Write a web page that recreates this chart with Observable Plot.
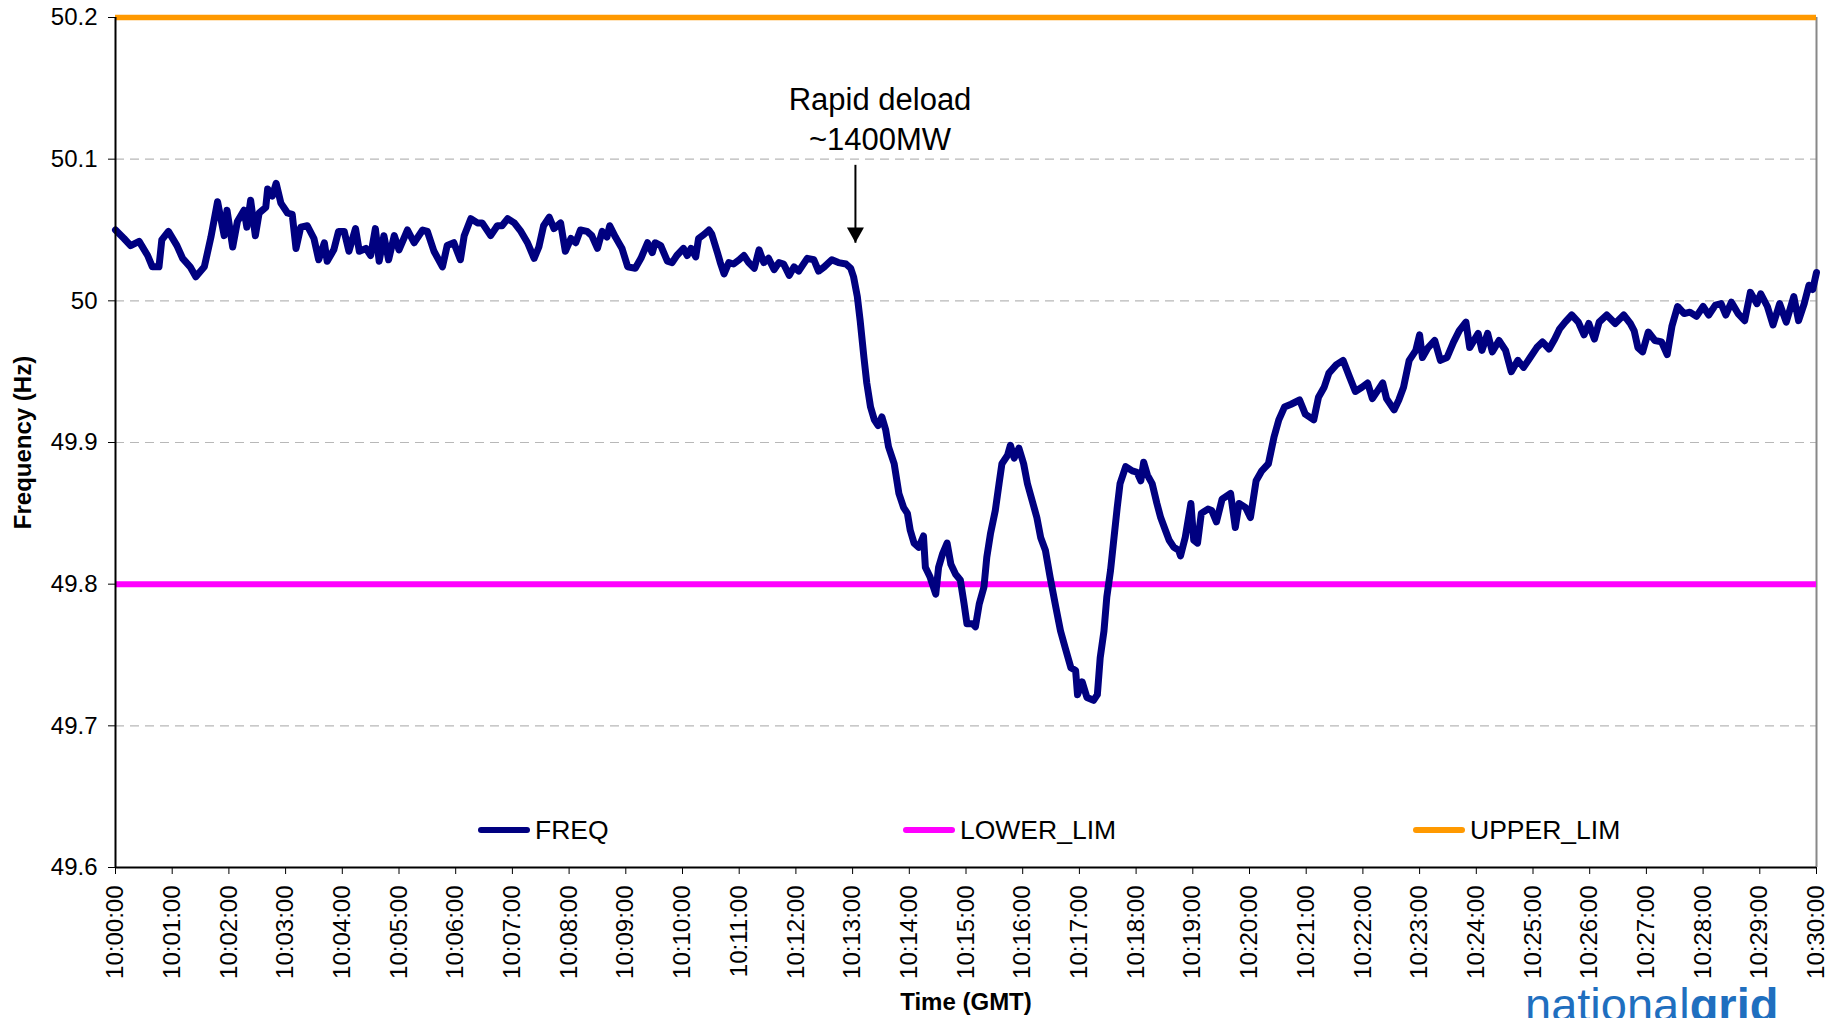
<!DOCTYPE html>
<html>
<head>
<meta charset="utf-8">
<script src="https://cdn.jsdelivr.net/npm/d3@7"></script>
<script src="https://cdn.jsdelivr.net/npm/@observablehq/plot@0.6"></script>
<style>
  html, body { margin: 0; padding: 0; background: #fff; }
  #wrap { position: relative; width: 1839px; height: 1018px; overflow: hidden; font-family: "Liberation Sans", Arial, sans-serif; }
  .leg { position: absolute; top: 815px; height: 30px; display: flex; align-items: center; font-size: 26.5px; color: #000; }
  .sw { width: 52px; height: 6px; border-radius: 3px; margin-right: 5px; }
  #logo { position: absolute; left: 1525px; top: 981px; font-size: 47px; line-height: 1; color: #1f6fbf; white-space: nowrap; }
</style>
</head>
<body>
<div id="wrap"></div>
<script>
// ---- data ----
const xTickLabels = ["10:00:00","10:01:00","10:02:00","10:03:00","10:04:00","10:05:00","10:06:00","10:07:00","10:08:00","10:09:00","10:10:00","10:11:00","10:12:00","10:13:00","10:14:00","10:15:00","10:16:00","10:17:00","10:18:00","10:19:00","10:20:00","10:21:00","10:22:00","10:23:00","10:24:00","10:25:00","10:26:00","10:27:00","10:28:00","10:29:00","10:30:00"];
const yTicks = [49.6, 49.7, 49.8, 49.9, 50.0, 50.1, 50.2];
const gridValues = [49.7, 49.8, 49.9, 50.0, 50.1];
const seriesNames = ["FREQ", "LOWER_LIM", "UPPER_LIM"];
const seriesColors = ["#000080", "#FF00FF", "#FF9900"];
const lowerLimit = 49.8;
const upperLimit = 50.2;
const xTitle = "Time (GMT)";
const yTitle = "Frequency (Hz)";
const annotationText = "Rapid deload\n~1400MW";
const annotationTime = "10:13:29";
const annotationValue = 50.1295;
const arrowTime = "10:13:03";
const arrowFrom = 50.096;
const arrowTo = 50.041;

// seconds after 10:00:00
const freqSeconds = [0,9,16,25,34,39,46,49,56,65,71,79,85,94,101,108,115,118,124,129,136,139,143,148,152,159,161,166,170,175,182,187,191,196,203,210,215,221,224,231,236,242,247,254,258,265,270,275,279,284,289,295,300,309,316,325,330,337,346,351,358,365,369,376,383,388,397,404,409,415,422,429,
436,443,448,453,459,464,471,476,482,487,492,499,504,510,515,520,523,529,536,542,550,556,563,568,571,577,584,589,594,601,605,609,614,617,623,628,631,637,640,644,649,654,660,665,670,676,681,686,691,697,702,707,713,718,723,732,739,744,750,758,765,773,778,
781,785,788,792,795,799,803,807,811,815,818,824,829,834,838,841,845,850,855,857,862,868,871,875,880,884,889,894,898,901,907,910,914,919,922,926,931,935,938,944,947,951,956,961,965,970,975,979,984,989,995,1000,1005,1011,1016,1018,1023,1028,1035,1039,1042,1046,1049,1053,1056,1060,1063,1069,1076,1081,1085,1088,1092,1097,1102,1106,1111,1115,1120,1125,
1127,1132,1138,1141,1145,1149,1156,1160,1165,1171,1180,1185,1189,1196,1201,1207,1213,1220,1226,1231,1237,1244,1253,1259,1268,1273,1279,1284,1292,1299,1306,1312,1319,1325,1330,1336,1341,1345,1353,1358,1363,1369,1376,1380,1383,1389,1396,1402,1409,1416,1422,1429,1433,1442,1446,1452,1457,1464,1471,1477,1484,1490,1497,1504,1510,1517,1523,1528,1534,1541,1548,1554,1559,1565,1570,1578,1587,1596,1603,1607,1611,1616,1622,1629,1636,1642,1647,1653,1660,1666,1673,1680,1686,1693,1699,1704,1710,1717,1724,1730,1737,1741,1748,1754,1761,1768,1776,1781,1787,1792,1796,1800];
const freqValues = [50.050,50.044,50.039,50.042,50.032,50.024,50.024,50.043,50.049,50.039,50.030,50.024,50.017,50.024,50.045,50.070,50.046,50.064,50.038,50.056,50.064,50.052,50.071,50.046,50.062,50.066,50.079,50.074,50.083,50.069,50.062,50.061,50.037,50.052,50.053,50.044,50.029,50.041,50.028,50.036,50.049,50.049,50.035,50.051,50.035,50.037,50.032,50.051,50.028,50.046,50.029,50.046,50.036,50.050,50.041,50.050,50.049,50.035,50.024,50.039,50.041,50.029,50.046,50.058,50.055,50.055,50.046,50.053,50.053,50.058,50.055,50.049,
50.041,50.030,50.038,50.053,50.059,50.051,50.055,50.035,50.044,50.041,50.050,50.049,50.046,50.037,50.049,50.045,50.053,50.045,50.037,50.024,50.023,50.030,50.041,50.034,50.041,50.039,50.028,50.027,50.032,50.037,50.032,50.037,50.031,50.044,50.047,50.050,50.047,50.034,50.027,50.019,50.027,50.026,50.029,50.032,50.027,50.023,50.036,50.027,50.030,50.022,50.027,50.026,50.018,50.024,50.021,50.030,50.029,50.021,50.024,50.029,50.027,50.026,50.023,
50.017,50.003,49.986,49.960,49.942,49.925,49.916,49.912,49.918,49.909,49.897,49.885,49.864,49.854,49.850,49.838,49.829,49.826,49.834,49.812,49.805,49.793,49.812,49.821,49.829,49.814,49.807,49.803,49.786,49.772,49.772,49.770,49.786,49.798,49.819,49.836,49.852,49.871,49.885,49.891,49.898,49.889,49.896,49.885,49.871,49.859,49.847,49.833,49.824,49.805,49.784,49.767,49.755,49.741,49.739,49.722,49.731,49.720,49.718,49.722,49.748,49.767,49.791,49.810,49.829,49.854,49.871,49.883,49.880,49.879,49.873,49.886,49.877,49.871,49.857,49.847,49.838,49.831,49.826,49.824,
49.820,49.833,49.857,49.831,49.829,49.850,49.853,49.852,49.844,49.860,49.864,49.840,49.857,49.854,49.847,49.873,49.880,49.885,49.904,49.916,49.925,49.927,49.930,49.920,49.916,49.932,49.939,49.949,49.955,49.958,49.946,49.936,49.939,49.942,49.931,49.937,49.942,49.931,49.923,49.930,49.939,49.958,49.965,49.976,49.960,49.967,49.972,49.958,49.960,49.971,49.979,49.985,49.967,49.977,49.965,49.977,49.964,49.972,49.965,49.950,49.958,49.953,49.960,49.967,49.971,49.966,49.973,49.980,49.985,49.990,49.985,49.976,49.984,49.973,49.985,49.990,49.984,49.990,49.984,49.979,49.967,49.964,49.978,49.972,49.971,49.962,49.982,49.996,49.991,49.992,49.989,49.996,49.990,49.997,49.998,49.990,49.999,49.991,49.986,50.006,49.998,50.005,49.996,49.983,49.998,49.985,50.003,49.986,49.998,50.011,50.008,50.020];

// ---- build ----
const parseT = s => new Date(`2000-01-01T${s}Z`);
const base = parseT("10:00:00").getTime();
const freq = freqSeconds.map((s, i) => ({time: new Date(base + s * 1000), value: freqValues[i]}));
const xTicks = xTickLabels.map(parseT);
const xDomain = [xTicks[0], xTicks[xTicks.length - 1]];
const fmt = d3.utcFormat("%H:%M:%S");

const downTriangle = {
  draw(context, size) {
    const r = Math.sqrt(size / Math.PI);
    context.moveTo(0, 0);
    context.lineTo(-r, -1.8 * r);
    context.lineTo(r, -1.8 * r);
    context.closePath();
  }
};

const chart = Plot.plot({
  width: 1839,
  height: 1018,
  marginLeft: 115,
  marginRight: 23,
  marginTop: 17,
  marginBottom: 151,
  style: {fontFamily: "Liberation Sans, Arial, sans-serif", fontSize: "24px", color: "#000", background: "#fff", overflow: "visible"},
  x: {type: "utc", domain: xDomain},
  y: {domain: [yTicks[0], yTicks[yTicks.length - 1]]},
  marks: [
    Plot.ruleY(gridValues, {stroke: "#b8b8b8", strokeWidth: 1.2, strokeDasharray: "9,6"}),
    Plot.ruleX([xDomain[1]], {stroke: "#888", strokeWidth: 2}),
    Plot.ruleY([yTicks[yTicks.length - 1]], {stroke: "#888", strokeWidth: 1.5}),
    Plot.ruleY([lowerLimit], {stroke: seriesColors[1], strokeWidth: 6}),
    Plot.ruleY([upperLimit], {stroke: seriesColors[2], strokeWidth: 5.5}),
    Plot.line(freq, {x: "time", y: "value", stroke: seriesColors[0], strokeWidth: 7, strokeLinejoin: "round", strokeLinecap: "round"}),
    Plot.ruleX([xDomain[0]], {stroke: "#000", strokeWidth: 2}),
    Plot.ruleY([yTicks[0]], {stroke: "#000", strokeWidth: 2}),
    Plot.axisY({ticks: yTicks, tickSize: 7, tickPadding: 11, fontSize: 24, tickFormat: d => String(+d.toFixed(1)), label: null}),
    Plot.axisX({ticks: xTicks, tickSize: 7, tickPadding: 11, fontSize: 24, tickRotate: -90, tickFormat: fmt, label: null}),
    Plot.text([xTitle], {frameAnchor: "bottom", text: d => d, dy: 135, lineAnchor: "middle", textAnchor: "middle", fontWeight: "bold", fontSize: 24}),
    Plot.text([yTitle], {frameAnchor: "left", text: d => d, rotate: -90, dx: -92, lineAnchor: "middle", textAnchor: "middle", fontWeight: "bold", fontSize: 24}),
    Plot.text([annotationText], {x: () => parseT(annotationTime), y: () => annotationValue, text: d => d, fontSize: 31, lineHeight: 1.27, lineAnchor: "middle", fill: "#000"}),
    Plot.link([0], {x1: () => parseT(arrowTime), x2: () => parseT(arrowTime), y1: () => arrowFrom, y2: () => arrowTo, stroke: "#000", strokeWidth: 2}),
    Plot.dot([0], {x: () => parseT(arrowTime), y: () => arrowTo, symbol: downTriangle, r: 8.5, fill: "#000", stroke: "none"})
  ]
});

const wrap = document.getElementById("wrap");
wrap.appendChild(chart);

// legend (inside plot area, as in the original)
const legendLeft = [478, 903, 1413];
seriesNames.forEach((name, i) => {
  const item = document.createElement("div");
  item.className = "leg";
  item.style.left = legendLeft[i] + "px";
  const sw = document.createElement("div");
  sw.className = "sw";
  sw.style.background = seriesColors[i];
  const t = document.createElement("span");
  t.textContent = name;
  item.appendChild(sw);
  item.appendChild(t);
  wrap.appendChild(item);
});

const logo = document.createElement("div");
logo.id = "logo";
logo.innerHTML = 'national<b>grid</b>';
wrap.appendChild(logo);
</script>
</body>
</html>
